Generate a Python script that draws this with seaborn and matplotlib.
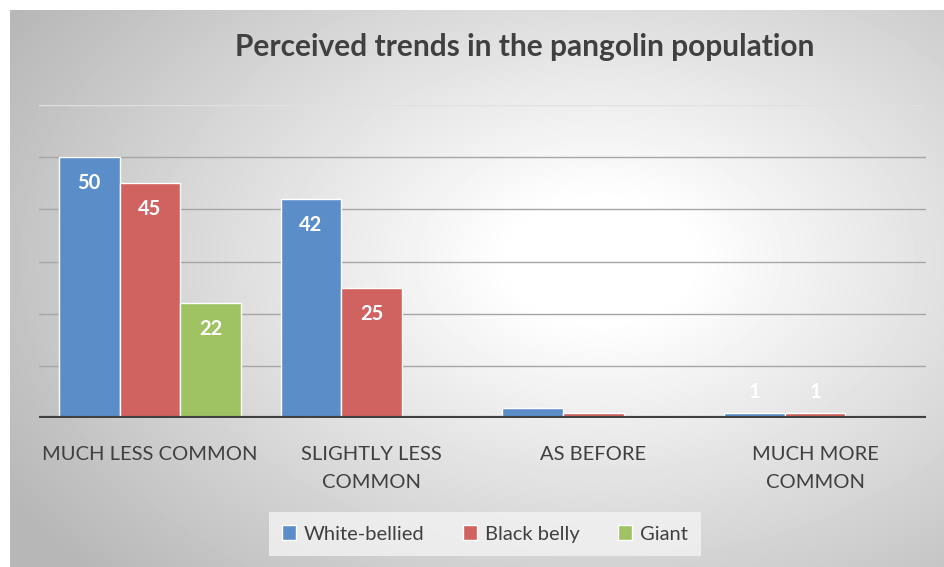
import matplotlib.pyplot as plt
import seaborn as sns
import numpy as np
import pandas as pd
from matplotlib.patches import Patch

# Data
categories = ["MUCH LESS COMMON", "SLIGHTLY LESS\nCOMMON", "AS BEFORE", "MUCH MORE\nCOMMON"]
species = ["White-bellied", "Black belly", "Giant"]
white_bellied = [50, 42, 2, 1]
black_belly = [45, 25, 1, 1]
giant = [22, 0, 0, 0]
# labels shown on the bars ('' where the chart shows none)
white_labels = ["50", "42", "", "1"]
black_labels = ["45", "25", "", "1"]
giant_labels = ["22", "", "", ""]

colors = ["#5b8ec9", "#d0625f", "#9fc263"]

df = pd.DataFrame({
    "category": categories * 3,
    "species": [species[0]] * 4 + [species[1]] * 4 + [species[2]] * 4,
    "value": white_bellied + black_belly + giant,
})

sns.set_theme(style="white")
plt.rcParams["font.family"] = ["Lato", "DejaVu Sans"]

fig = plt.figure(figsize=(9.44, 5.67), dpi=100)

# radial grey background like the Office chart area
bg = fig.add_axes([10 / 944, 0, 934 / 944, 557 / 567])
yy, xx = np.mgrid[0:557, 0:934]
r = np.sqrt(((xx - 590) / 600.0) ** 2 + ((yy - 250) / 400.0) ** 2)
shade = 1.0 - 0.24 * np.clip(r - 0.15, 0, 1) / 0.85
bg.imshow(shade, cmap="gray", vmin=0, vmax=1, aspect="auto", interpolation="bilinear")
bg.set_axis_off()

ax = fig.add_axes([39 / 944, 1 - 418 / 567, 887 / 944, (418 - 105) / 567])
ax.set_facecolor("none")

sns.barplot(data=df, x="category", y="value", hue="species", hue_order=species,
            palette=colors, width=0.82, edgecolor="white", linewidth=1,
            saturation=1, ax=ax, legend=False, zorder=3)

ax.set_ylim(0, 60)
ax.set_yticks([10, 20, 30, 40, 50])
for v in [10, 20, 30, 40, 50]:
    ax.axhline(v, color="#a6a6a6", lw=1, zorder=1)
ax.axhline(60, color="#e0e0e0", lw=1, zorder=1)
ax.axhline(0, color="#404040", lw=3, zorder=4)
ax.set_yticklabels([])
ax.tick_params(axis="y", length=0)
ax.tick_params(axis="x", length=0)
ax.set_xticklabels([])
# category labels drawn as text so the two-line ones get wider line spacing
for i, c in enumerate(categories):
    ax.text(i, -28 / 313, c, transform=ax.get_xaxis_transform(), ha="center", va="top",
            fontsize=14.5, color="#404040", linespacing=1.75)
ax.set_xlabel("")
ax.set_ylabel("")
for s in ax.spines.values():
    s.set_visible(False)

all_labels = [white_labels, black_labels, giant_labels]
for cont, labs in zip(ax.containers, all_labels):
    vals = [b.get_height() for b in cont]
    inside = [l if v >= 5 else "" for l, v in zip(labs, vals)]
    above = [l if v < 5 else "" for l, v in zip(labs, vals)]
    ax.bar_label(cont, labels=inside, padding=-26, color="white",
                 fontsize=14.5, fontweight="bold", zorder=5)
    ax.bar_label(cont, labels=above, padding=8, color="white",
                 fontsize=14.5, fontweight="bold", zorder=5)

fig.text(525 / 944, 1 - 47 / 567, "Perceived trends in the pangolin population",
         ha="center", va="center", fontsize=21.5, fontweight="bold", color="#404040")

handles = [Patch(facecolor=c, edgecolor="white", label=s) for c, s in zip(colors, species)]
leg = fig.legend(handles=handles, loc="center", bbox_to_anchor=(485 / 944, 1 - 534 / 567),
                 ncol=3, frameon=True, fontsize=14.5, handlelength=0.7, handleheight=0.7,
                 handletextpad=0.4, columnspacing=1.9, borderpad=0.65, fancybox=False)
leg.get_frame().set_facecolor("#f3f3f3")
leg.get_frame().set_edgecolor("none")
for t in leg.get_texts():
    t.set_color("#404040")

fig.savefig("out.png", dpi=100)
